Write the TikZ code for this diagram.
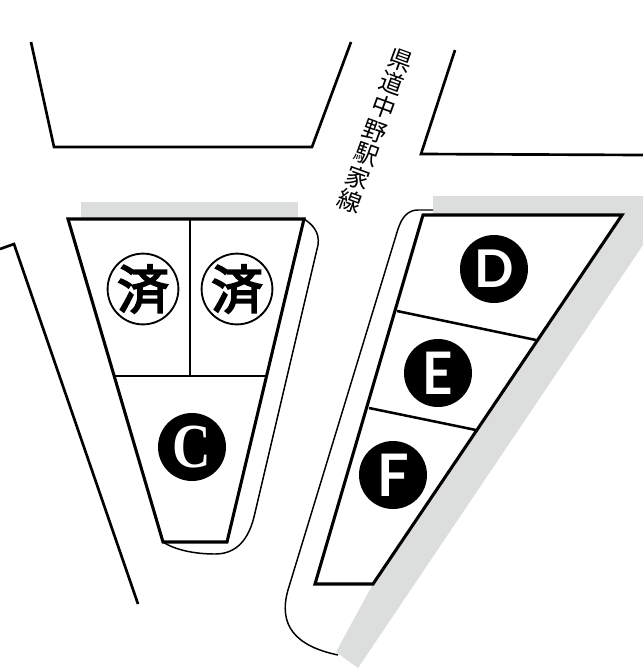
\documentclass[tikz,border=0pt]{standalone}
\usepackage{graphicx}
\usepackage{fontspec}
\newfontfamily\cjk{Noto Sans CJK JP}
\newfontfamily\cjkheavy[FakeBold=3.5]{Noto Sans CJK JP}
\newfontfamily\markfont{Lato}
\newfontfamily\serifmark{Liberation Serif}
\definecolor{strip}{HTML}{DCDDDD}
\tikzset{
  road/.style={line width=2pt,line join=miter},
  lot/.style={line width=2.3pt,line join=miter},
  divider/.style={line width=1.9pt},
  kerb/.style={line width=1.1pt},
  sold/.style={circle,draw=black,line width=1.4pt,fill=white,minimum size=52.5pt,inner sep=0pt,font=\cjkheavy\fontsize{39}{39}\selectfont},
  lotmark/.style={circle,fill=black,text=white,minimum size=51pt,inner sep=0pt,font=\markfont\bfseries\fontsize{44}{44}\selectfont},
}
\begin{document}
\begin{tikzpicture}[x=0.75pt,y=-0.75pt]
\useasboundingbox (0,0) rectangle (643,669);
\fill[white] (0,0) rectangle (643,669);
% grey strips
\fill[strip] (81,202) rectangle (298,219);
\fill[strip] (433,196) -- (643,196) -- (643,245) -- (358,668) -- (336,652) -- (373,584) -- (622,215) -- (433,214) -- cycle;
% roads
\draw[road] (31,42) -- (54,147) -- (312,147) -- (351,42);
\draw[road] (455,50) -- (421,154) -- (643,155);
\draw[road] (0,249) -- (14,244) -- (138,604);
% thin kerbs
\draw[kerb] (304,219) .. controls (312,224) and (320,232) .. (318,245)
  -- (254,517) .. controls (247,545) and (232,554) .. (215,554)
  .. controls (195,554) and (175,550) .. (163,542);
\draw[kerb] (433,210) -- (418,210) .. controls (408,210) and (402,217) .. (398,229)
  -- (288,590) .. controls (278,625) and (295,646) .. (338,655);
% left block
\draw[lot] (68,219) -- (304,219) -- (227,542) -- (163,542) -- cycle;
\draw[divider] (190,219) -- (190,376);
\draw[divider] (115,376) -- (265,376);
% right block
\draw[lot] (423,215) -- (622,215) -- (373,584) -- (315,584) -- cycle;
\draw[divider] (397,311) -- (536,340);
\draw[divider] (369,408) -- (476,430);
% marks
\node[sold] (soldA) at (143,289) {済};
\node[sold] (soldB) at (237,289) {済};
\node[lotmark] (lotC) at (192,447) {\serifmark\bfseries\fontsize{47}{47}\selectfont\scalebox{0.85}[1]{C}};
\node[lotmark] (lotD) at (494,269) {\fontsize{39}{39}\selectfont D};
\node[lotmark] (lotE) at (438,373) {\scalebox{0.9}[1]{E}};
\node[lotmark] (lotF) at (393,475) {\scalebox{0.95}[1]{F}};
% road name
\node[rotate=-20,align=center,inner sep=0pt,font=\cjk\fontsize{18}{18.8}\selectfont] (roadname) at (375,131) {県\\道\\中\\野\\駅\\家\\線};
\end{tikzpicture}
\end{document}
